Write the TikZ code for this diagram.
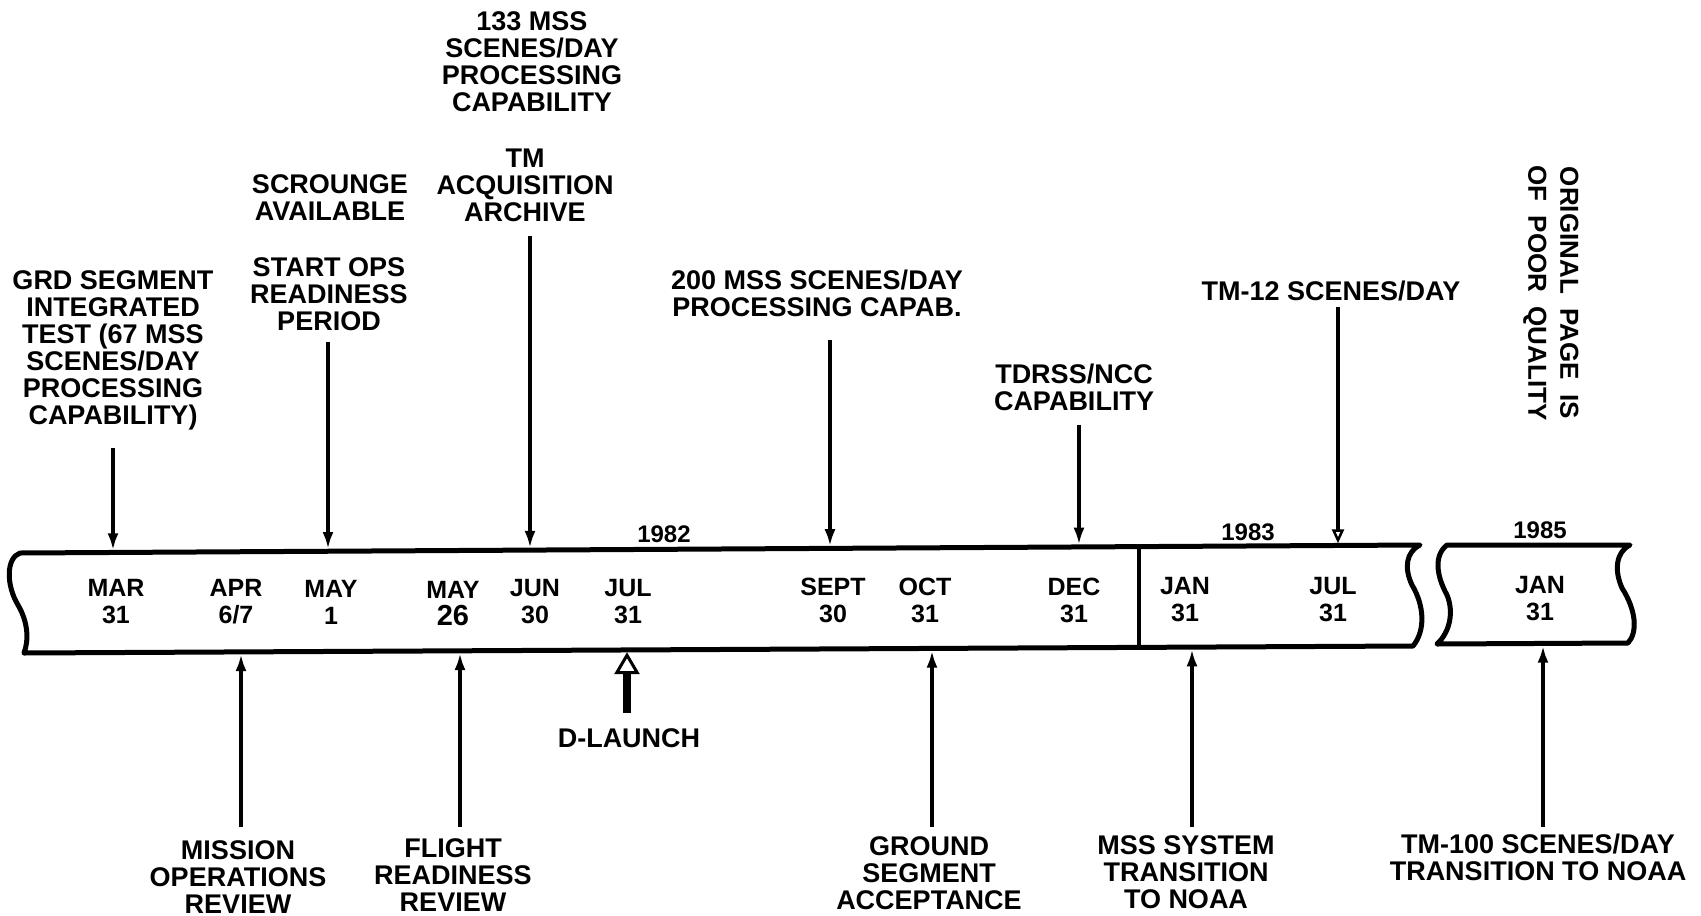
\documentclass[tikz,border=0pt]{standalone}
\usepackage{fontspec}
\setmainfont{Liberation Sans}
\usetikzlibrary{arrows.meta}
\begin{document}
\begin{tikzpicture}[x=1pt,y=-1pt,
  lab/.style={font=\fontsize{27}{27}\selectfont\bfseries, align=center, inner sep=0pt},
  mon/.style={font=\fontsize{25}{27}\selectfont\bfseries, align=center, inner sep=0pt},
  yr/.style={font=\fontsize{24}{24}\selectfont\bfseries, inner sep=0pt},
  band/.style={line width=5pt, line join=round},
  arr/.style={line width=4pt, -{Latex[length=17pt,width=11pt]}},
  openarr/.style={line width=4pt, -{Triangle[open,length=14pt,width=12pt,line width=2.5pt]}},
  fatarr/.style={line width=8pt, -{Triangle[open,length=22pt,width=25pt,line width=3pt]}},
]
\useasboundingbox (0,0) rectangle (1701,916);

% bands
\draw[band] (20,553) -- (1420,545)
  .. controls (1406,552) and (1404,568) .. (1412,585)
  .. controls (1424,605) and (1426,630) .. (1413,646)
  -- (24,653)
  .. controls (29,640) and (28,622) .. (18,605)
  .. controls (6,585) and (6,558) .. (20,553) -- cycle;
\draw[band] (1447,545) -- (1630,545)
  .. controls (1616,552) and (1614,570) .. (1622,588)
  .. controls (1636,610) and (1638,632) .. (1628,643)
  -- (1437,644)
  .. controls (1450,632) and (1454,612) .. (1447,595)
  .. controls (1436,575) and (1434,555) .. (1447,545) -- cycle;
\coordinate (divT) at (1139,547.4);
\coordinate (divB) at (1139,647.4);
\draw[line width=3.5pt] (divT) -- (divB);

% years
\node[yr] (y82) at (664,534) {1982};
\node[yr] (y83) at (1248,532) {1983};
\node[yr] (y85) at (1540,530) {1985};

% dates in band
\node[mon] (mar) at (116,602) {MAR\\31};
\node[mon] (apr) at (236,602) {APR\\6/7};
\node[mon] (may1) at (331,602) {MAY\\1};
\node[mon] (may26) at (453,604) {MAY\\{\fontsize{29}{29}\selectfont 26}};
\node[mon] (jun) at (535,602) {JUN\\30};
\node[mon] (jul) at (628,602) {JUL\\31};
\node[mon] (sep) at (833,600) {SEPT\\30};
\node[mon] (oct) at (925,600) {OCT\\31};
\node[mon] (dec) at (1074,600) {DEC\\31};
\node[mon] (jan83) at (1185,600) {JAN\\31};
\node[mon] (jul83) at (1333,600) {JUL\\31};
\node[mon] (jan85) at (1540,599) {JAN\\31};

% top labels
\node[lab] (grd) at (113,350) {GRD SEGMENT\\INTEGRATED\\TEST (67 MSS\\SCENES/DAY\\PROCESSING\\CAPABILITY)};
\node[lab] (scr) at (330,198) {SCROUNGE\\AVAILABLE};
\node[lab] (ops) at (329,294) {START OPS\\READINESS\\PERIOD};
\node[lab] (mssA) at (532,62) {133 MSS\\SCENES/DAY\\PROCESSING\\CAPABILITY};
\node[lab] (tmacq) at (525,185) {TM\\ACQUISITION\\ARCHIVE};
\node[lab] (mssB) at (817,293) {200 MSS SCENES/DAY\\PROCESSING CAPAB.};
\node[lab] (tdrss) at (1074,387) {TDRSS/NCC\\CAPABILITY};
\node[lab] (tmtw) at (1331,291) {TM-12 SCENES/DAY};
\node[lab, rotate=-90, font=\fontsize{26}{32}\selectfont\bfseries] (orig) at (1551,293) {ORIGINAL\ \ PAGE\ \ IS\\OF\ \ POOR\ \ QUALITY};

% bottom labels
\node[lab] (mor) at (238,877) {MISSION\\OPERATIONS\\REVIEW};
\node[lab] (frr) at (453,875) {FLIGHT\\READINESS\\REVIEW};
\node[lab] (dl) at (629,738) {D-LAUNCH};
\node[lab] (gsa) at (929,873) {GROUND\\SEGMENT\\ACCEPTANCE};
\node[lab] (msst) at (1186,872) {MSS SYSTEM\\TRANSITION\\TO NOAA};
\node[lab] (tmh) at (1538,857) {TM-100 SCENES/DAY\\TRANSITION TO NOAA};

% arrow end points
\coordinate (sMAR) at (113,448);   \coordinate (eMAR) at (113,550.3);
\coordinate (sMAY) at (328,342);   \coordinate (eMAY) at (328,549.0);
\coordinate (sJUN) at (530,236);   \coordinate (eJUN) at (530,547.9);
\coordinate (sSEP) at (830,340);   \coordinate (eSEP) at (830,546.2);
\coordinate (sDEC) at (1079,425);  \coordinate (eDEC) at (1079,544.7);
\coordinate (sJUL) at (1338,307);  \coordinate (eJUL) at (1338,543.3);

\coordinate (sAPR) at (241,827);   \coordinate (eAPR) at (241,654.1);
\coordinate (sMYB) at (460,827);   \coordinate (eMYB) at (460,653.0);
\coordinate (sDL)  at (627,713);   \coordinate (eDL)  at (627,652.2);
\coordinate (sOCT) at (932,827);   \coordinate (eOCT) at (932,650.6);
\coordinate (sJAN) at (1192,827);  \coordinate (eJAN) at (1192,649.3);
\coordinate (sJNB) at (1543,827);  \coordinate (eJNB) at (1543,645.7);

% arrows
\draw[arr] (sMAR) -- (eMAR);
\draw[arr] (sMAY) -- (eMAY);
\draw[arr] (sJUN) -- (eJUN);
\draw[arr] (sSEP) -- (eSEP);
\draw[arr] (sDEC) -- (eDEC);
\draw[openarr] (sJUL) -- (eJUL);
\draw[arr] (sAPR) -- (eAPR);
\draw[arr] (sMYB) -- (eMYB);
\draw[fatarr] (sDL) -- (eDL);
\draw[arr] (sOCT) -- (eOCT);
\draw[arr] (sJAN) -- (eJAN);
\draw[arr] (sJNB) -- (eJNB);
\end{tikzpicture}
\end{document}
